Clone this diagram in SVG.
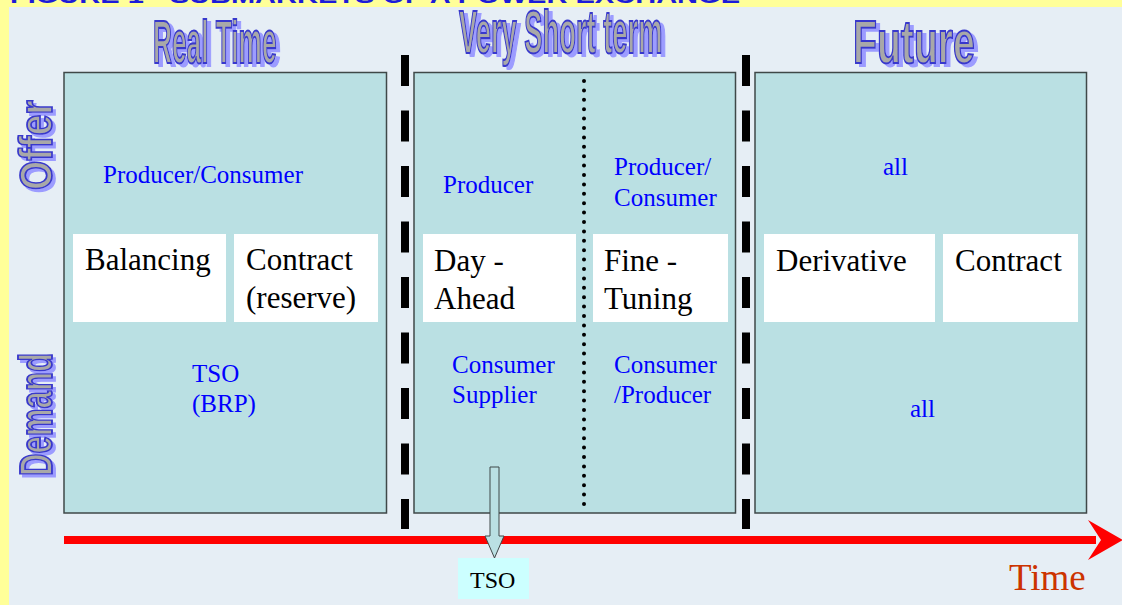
<svg xmlns="http://www.w3.org/2000/svg" width="1122" height="605" viewBox="0 0 1122 605">
<defs>
<filter id="wordart-shadow" x="-10%" y="-10%" width="130%" height="130%">
<feFlood flood-color="#9C9CFF" result="c"/>
<feComposite in="c" in2="SourceAlpha" operator="in" result="s"/>
<feOffset in="s" dx="4" dy="3" result="o"/>
<feMerge><feMergeNode in="o"/><feMergeNode in="SourceGraphic"/></feMerge>
</filter>
<filter id="wordart-shadow-v" x="-10%" y="-10%" width="130%" height="130%">
<feFlood flood-color="#9C9CFF" result="c"/>
<feComposite in="c" in2="SourceAlpha" operator="in" result="s"/>
<feOffset in="s" dx="3" dy="3" result="o"/>
<feMerge><feMergeNode in="o"/><feMergeNode in="SourceGraphic"/></feMerge>
</filter>
<style>
.panel{fill:#BAE0E3;stroke:#3F4848;stroke-width:1.5}
.box{fill:#FFFFFF}
.lbl{font-family:"Liberation Sans",Arial,sans-serif}
.lbl{font-family:"Liberation Serif","Times New Roman",serif;font-size:31px;fill:#000000}
.role{font-family:"Liberation Serif","Times New Roman",serif;font-size:25px;fill:#0000FF}
.head{font-family:"Liberation Sans",Arial,sans-serif;font-weight:bold;fill:#A8A8A8;stroke:#3838CC;stroke-width:1.6;vector-effect:non-scaling-stroke}
.sep{fill:none;stroke:#000000;stroke-width:8;stroke-dasharray:31 24.5}
.dots{fill:none;stroke:#000000;stroke-width:4;stroke-linecap:round;stroke-dasharray:0 9.4}
</style>
</defs>

<rect x="0" y="0" width="1122" height="605" fill="#FFFF99"/>
<rect x="9" y="7" width="1113" height="598" fill="#E6EEF5"/>
<text x="10" y="3" font-family="Liberation Sans, Arial, sans-serif" font-weight="bold" font-size="22" fill="#1C1CD8" textLength="730" lengthAdjust="spacingAndGlyphs">FIGURE 1 - SUBMARKETS OF A POWER EXCHANGE</text>

<g id="heading-real-time" filter="url(#wordart-shadow)">
<text class="head" font-size="62" x="0" y="0" transform="translate(153,63) scale(0.4234,1)">Real Time</text>
</g>
<g id="heading-very-short-term" filter="url(#wordart-shadow)">
<text class="head" font-size="61" x="0" y="0" transform="translate(459,53) scale(0.448,1)">Very Short term</text>
</g>
<g id="heading-future" filter="url(#wordart-shadow)">
<text class="head" font-size="62" x="0" y="0" transform="translate(853,63) scale(0.632,1)">Future</text>
</g>
<g id="axis-offer" filter="url(#wordart-shadow-v)">
<text class="head" font-size="46" x="0" y="0" transform="rotate(-90 52 190) translate(52,190) scale(0.819,1)">Offer</text>
</g>
<g id="axis-demand" filter="url(#wordart-shadow-v)">
<text class="head" font-size="46" x="0" y="0" transform="rotate(-90 52 476) translate(52,476) scale(0.678,1)">Demand</text>
</g>

<g id="panel-real-time">
<rect class="panel" x="64" y="72.5" width="322.5" height="440.5"/>
<text class="role" x="103" y="183">Producer/Consumer</text>
<text class="role" x="192" y="382">TSO</text>
<text class="role" x="192" y="412">(BRP)</text>
</g>
<g id="box-balancing">
<rect class="box" x="73" y="234" width="153" height="88"/>
<text class="lbl" x="85" y="270">Balancing</text>
</g>
<g id="box-contract-reserve">
<rect class="box" x="234" y="234" width="144" height="88"/>
<text class="lbl" x="246" y="270">Contract</text>
<text class="lbl" x="246" y="308">(reserve)</text>
</g>

<g id="panel-very-short-term">
<rect class="panel" x="414" y="72.5" width="321.5" height="440.5"/>
<line class="dots" x1="584" y1="81" x2="584" y2="512"/>
<text class="role" x="443" y="193">Producer</text>
<text class="role" x="614" y="175">Producer/</text>
<text class="role" x="614" y="206">Consumer</text>
<text class="role" x="452" y="373">Consumer</text>
<text class="role" x="452" y="403">Supplier</text>
<text class="role" x="614" y="373">Consumer</text>
<text class="role" x="614" y="403">/Producer</text>
</g>
<g id="box-day-ahead">
<rect class="box" x="423" y="234" width="153" height="88"/>
<text class="lbl" x="434" y="271">Day -</text>
<text class="lbl" x="434" y="309">Ahead</text>
</g>
<g id="box-fine-tuning">
<rect class="box" x="593" y="234" width="135" height="88"/>
<text class="lbl" x="604" y="271">Fine -</text>
<text class="lbl" x="604" y="309">Tuning</text>
</g>

<g id="panel-future">
<rect class="panel" x="755" y="72.5" width="331.5" height="440.5"/>
<text class="role" x="883" y="175">all</text>
<text class="role" x="910" y="417">all</text>
</g>
<g id="box-derivative">
<rect class="box" x="764" y="234" width="171" height="88"/>
<text class="lbl" x="776" y="271">Derivative</text>
</g>
<g id="box-contract">
<rect class="box" x="943" y="234" width="135" height="88"/>
<text class="lbl" x="955" y="271">Contract</text>
</g>

<g id="connectors">
<line class="sep" x1="405" y1="55" x2="405" y2="529"/>
<line class="sep" x1="746" y1="55" x2="746" y2="529"/>
<line x1="64" y1="540" x2="1096" y2="540" stroke="#FF0000" stroke-width="8"/>
<polygon points="1088,520 1123,540 1088,560 1101,540" fill="#FF0000"/>
<polygon points="490,467 499,467 499,536 504,536 494.5,558 485,536 490,536" fill="#BAE0E3" stroke="#3F4848" stroke-width="1"/>
</g>

<g id="node-tso">
<rect x="458" y="558" width="71" height="41" fill="#CCFFFF"/>
<text x="470" y="588" font-family="Liberation Serif, Times New Roman, serif" font-size="24" fill="#000000">TSO</text>
</g>

<g id="label-time">
<text x="1009" y="590" font-family="Liberation Serif, Times New Roman, serif" font-size="37" fill="#CC3300">Time</text>
</g>
</svg>
